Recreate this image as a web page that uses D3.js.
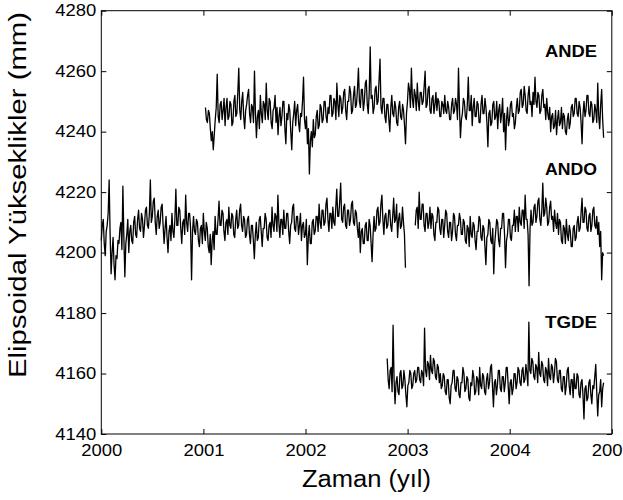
<!DOCTYPE html>
<html>
<head>
<meta charset="utf-8">
<script src="https://cdn.jsdelivr.net/npm/d3@7"></script>
<style>
  html, body { margin: 0; padding: 0; background: #fff; }
  svg { display: block; }
  text { font-family: "Liberation Sans", Arial, Helvetica, sans-serif; fill: #000; }
</style>
</head>
<body>
<svg id="chart" width="623" height="500"></svg>
<script>
// ---------- data ----------
const xTicks = [2000, 2001, 2002, 2003, 2004, 2005];
const yTicks = [4140, 4160, 4180, 4200, 4220, 4240, 4260, 4280];
const seriesNames = ["ANDE", "ANDO", "TGDE"];
const xTitle = "Zaman (yıl)";
const yTitle = "Elipsoidal Yükseklikler (mm)";

// twice-weekly samples, first and last epoch (decimal year)
const andeSpan = [2001.02, 2004.92];
const andoSpan = [2000.00, 2004.92];
const tgdeSpan = [2002.80, 2004.92];

const andeValues = [
  4248,4244, 4243,4247, 4246,4241,
  4237,4240, 4234,4239,
  4244,4248, 4259,4245, 4243,4249, 4250,4244,
  4247,4251, 4242,4248, 4251,4244, 4245,4250, 4249,4242, 4243,4250, 4252,4245, 4246,4253,
  4261,4247,
  4244,4250, 4253,4245, 4241,4247, 4249,4252, 4254,4246, 4243,4249, 4248,4243,
  4260,4246,
  4238,4245, 4247,4241, 4252,4246, 4243,4250, 4249,4244, 4256,4247, 4244,4251, 4250,4243, 4241,4247, 4248,4252,
  4243,4248, 4239,4245, 4248,4242, 4245,4250, 4250,4241, 4236,4246, 4244,4249, 4247,4240, 4234,4243, 4246,4250, 4242,4247, 4249,4243, 4240,4246, 4245,4250, 4258,4244,
  4241,4245, 4236,4241, 4226,4237, 4240,4235, 4244,4238,
  4239,4245, 4247,4241, 4242,4249, 4248,4243, 4244,4250, 4250,4245, 4243,4248, 4246,4252,
  4252,4245, 4246,4251, 4250,4244, 4256,4249, 4245,4252, 4251,4246, 4248,4253, 4254,4247, 4244,4250, 4250,4255, 4253,4246, 4247,4252, 4255,4248, 4249,4254,
  4261,4250, 4248,4254, 4254,4247, 4250,4256, 4257,4249, 4246,4253, 4268,4251, 4252,4246, 4248,4254, 4255,4249, 4250,4257, 4264,4248,
  4246,4251, 4251,4245, 4243,4249, 4249,4244, 4240,4248, 4252,4246, 4245,4250, 4248,4243, 4242,4248, 4250,4245, 4244,4249, 4247,4242,
  4236,4246,
  4250,4256, 4254,4248, 4261,4251, 4248,4254, 4252,4247, 4256,4250, 4247,4253, 4253,4249, 4250,4255, 4260,4248, 4249,4254, 4255,4247, 4246,4251, 4252,4246, 4249,4253,
  4247,4251, 4250,4245, 4245,4250, 4249,4246, 4252,4247, 4246,4250, 4248,4244, 4244,4249, 4251,4246, 4247,4251, 4249,4244, 4261,4248,
  4238,4244, 4246,4251, 4250,4245, 4244,4249, 4258,4247, 4247,4252, 4242,4248, 4251,4245, 4245,4250, 4249,4243, 4243,4249, 4252,4246, 4246,4251, 4248,4243,
  4235,4246,
  4247,4242, 4243,4249, 4250,4244, 4245,4250, 4241,4247, 4249,4243, 4246,4251, 4240,4246, 4234,4244, 4248,4242, 4244,4249, 4250,4245, 4246,4241, 4243,4248,
  4251,4246, 4247,4253, 4254,4248, 4249,4255, 4252,4247, 4246,4252, 4255,4249, 4250,4245, 4253,4249, 4258,4250, 4248,4253, 4252,4246, 4247,4252, 4254,4248, 4249,4244, 4251,4246,
  4244,4248, 4240,4245, 4246,4241, 4242,4247, 4239,4244, 4247,4242, 4243,4248, 4241,4246, 4245,4240, 4239,4244, 4246,4241, 4243,4248,
  4249,4245, 4246,4251, 4251,4246, 4245,4250, 4248,4243, 4236,4246, 4250,4245, 4247,4252, 4252,4246, 4245,4250, 4249,4243, 4244,4249,
  4247,4243, 4256,4245, 4241,4249, 4254,4244, 4238
];

const andoValues = [
  4204,4209, 4211,4203, 4199,4207, 4209,4213, 4224,4206,
  4193,4200, 4205,4196, 4191,4199, 4198,4204,
  4203,4208, 4210,4201, 4222,4205, 4192,4203, 4206,4211,
  4200,4207, 4209,4204, 4203,4210, 4212,4206, 4205,4211, 4214,4208, 4207,4213, 4211,4205,
  4209,4214, 4215,4209, 4208,4213, 4224,4210, 4212,4217, 4218,4210, 4206,4212, 4214,4208, 4210,4215, 4216,4209, 4203,4208, 4212,4205, 4200,4207, 4209,4204,
  4213,4207, 4205,4211, 4221,4209, 4209,4215, 4214,4208, 4203,4210, 4211,4206, 4219,4210, 4207,4213, 4213,4208,
  4191,4207,
  4212,4207, 4206,4211, 4210,4204, 4202,4208, 4209,4203, 4213,4207, 4204,4210, 4208,4202, 4200,4206, 4196,4204, 4207,4201,
  4212,4206, 4206,4211, 4217,4209, 4209,4214, 4213,4207, 4204,4210, 4211,4206, 4215,4209, 4208,4213, 4212,4206, 4205,4211, 4214,4208, 4209,4214, 4216,4209, 4207,4212, 4211,4205,
  4206,4211, 4212,4206, 4203,4209, 4209,4204, 4198,4206, 4210,4204, 4205,4211, 4212,4207, 4202,4208, 4208,4213, 4211,4205, 4204,4209,
  4210,4205, 4215,4209, 4207,4213, 4212,4207, 4219,4210, 4205,4211, 4211,4206, 4214,4208, 4208,4213, 4213,4207, 4203,4209, 4210,4215, 4216,4208, 4207,4212, 4212,4206, 4209,4213,
  4204,4209, 4210,4205, 4206,4211, 4196,4205, 4209,4203, 4203,4210, 4211,4206, 4207,4212,
  4212,4207, 4216,4210, 4208,4214, 4214,4209, 4210,4216, 4218,4211, 4207,4213, 4213,4208, 4215,4210, 4209,4215, 4221,4212, 4212,4217, 4223,4211, 4210,4215, 4216,4209, 4208,4214, 4214,4209, 4211,4216, 4217,4210, 4209,4214, 4213,4208,
  4205,4210, 4200,4207, 4208,4203, 4203,4209, 4210,4204, 4204,4211, 4209,4203, 4197,4206,
  4212,4207, 4208,4214, 4215,4209, 4210,4216, 4219,4211, 4206,4212, 4213,4208, 4209,4214, 4214,4209, 4207,4212, 4218,4210, 4211,4216, 4205,4211, 4213,4208, 4209,4215, 4210,4206,
  4195,null, null,null, null,null, null,null, null,null,
  4209,4214, 4215,4208, 4220,4211, 4211,4216, 4216,4209, 4207,4213, 4213,4208, 4210,4215,
  4208,4213, 4212,4206, 4204,4210, 4210,4215, 4214,4208, 4206,4211, 4211,4205, 4209,4214, 4213,4207, 4205,4210, 4210,4204, 4207,4213, 4212,4206, 4204,4209, 4209,4213, 4211,4206,
  4206,4211, 4210,4204, 4203,4209, 4208,4202, 4212,4206, 4205,4210, 4209,4204, 4201,4207, 4207,4212, 4211,4205, 4204,4209, 4208,4202, 4196,4205, 4206,4211, 4210,4204, 4203,4208, 4193,4203, 4207,4211,
  4210,4204, 4202,4208, 4208,4213, 4213,4206, 4195,4204, 4206,4211, 4211,4205, 4204,4209, 4209,4214, 4207,4212,
  4212,4207, 4215,4210, 4209,4214, 4214,4208, 4219,4211, 4211,4206,
  4189,4208,
  4214,4209, 4210,4215, 4216,4210, 4212,4217, 4218,4211, 4209,4214, 4223,4212, 4213,4218, 4215,4209, 4210,4215, 4217,4211, 4212,4207, 4214,4210, 4208,4213,
  4206,4211, 4210,4204, 4203,4209, 4208,4203, 4211,4206, 4204,4209, 4207,4202, 4202,4208, 4209,4204, 4205,4210,
  4212,4207, 4208,4213, 4218,4210, 4210,4215, 4214,4208, 4207,4212, 4213,4207, 4209,4214, 4215,4209, 4208,4212,
  4206,4210, 4202,4207, 4191,4200, 4199
];

const tgdeValues = [
  4165,4158, 4155,4161, 4162,4154, 4176,4158, 4150,4157, 4159,4154, 4153,4160, 4161,4155, 4156,4161, 4158,4153,
  4149,4156,
  4157,4161, 4160,4155, 4156,4160, 4161,4157, 4158,4162, 4162,4158, 4157,4161, 4160,4156,
  4175,4161,
  4159,4164, 4163,4158, 4166,4161, 4160,4165, 4164,4159, 4158,4163, 4162,4157, 4160,4155,
  4156,4160, 4159,4154, 4153,4158, 4158,4152, 4150,4156, 4157,4161, 4161,4155, 4154,4159, 4158,4153, 4152,4157, 4157,4162, 4160,4154, 4155,4159, 4158,4152, 4151,4157, 4156,4161, 4159,4153, 4154,4159,
  4158,4153, 4162,4156, 4155,4160, 4159,4154, 4153,4158, 4160,4155, 4157,4162, 4163,4156, 4149,4157, 4158,4153, 4156,4161, 4161,4155, 4154,4159, 4159,4154, 4157,4162, 4162,4156, 4150,4157, 4158,4153, 4155,4160, 4160,4155, 4157,4162,
  4161,4157, 4156,4161, 4162,4157, 4158,4163, 4160,4156,
  4177,4161,
  4160,4165, 4164,4159, 4158,4163, 4162,4157, 4167,4160, 4159,4164, 4163,4158, 4157,4162, 4161,4156, 4165,4159, 4158,4163, 4162,4157, 4160,4165, 4164,4158,
  4157,4161, 4161,4155, 4154,4159, 4159,4153, 4156,4161, 4162,4156, 4153,4158, 4158,4152, 4160,4155, 4155,4160, 4159,4153, 4152,4157, 4158,4153, 4145,4155,
  4156,4151, 4152,4157, 4158,4153, 4150,4156, 4155,4159, 4163,4154, 4146,4153, 4154,4158, 4149,4155, 4157
];

// ---------- layout ----------
const L = 101.3, R = 611.8, T = 10.7, B = 434;
const svg = d3.select("#chart");
svg.append("rect").attr("width", 623).attr("height", 500).attr("fill", "#fff");

const x = d3.scaleLinear().domain([2000, 2005]).range([L, R]);
const y = d3.scaleLinear().domain([4140, 4280]).range([B, T]);

function toPoints(values, span) {
  const n = values.length;
  const dt = (span[1] - span[0]) / (n - 1);
  return values.map((v, i) => ({ t: span[0] + i * dt, v }));
}

const series = [
  { name: seriesNames[0], pts: toPoints(andeValues, andeSpan), label: [597, 57.3] },
  { name: seriesNames[1], pts: toPoints(andoValues, andoSpan), label: [597, 175] },
  { name: seriesNames[2], pts: toPoints(tgdeValues, tgdeSpan), label: [597, 328.3] }
];

const line = d3.line()
  .defined(d => d.v !== null)
  .x(d => x(d.t))
  .y(d => y(d.v));

const plot = svg.append("g");
series.forEach(s => {
  plot.append("path")
    .datum(s.pts)
    .attr("fill", "none")
    .attr("stroke", "#000")
    .attr("stroke-width", 1.3)
    .attr("stroke-linejoin", "round")
    .attr("d", line);
});

// ---------- axes ----------
const fontTick = 16;
const gLeft = svg.append("g").attr("transform", `translate(${L},0)`)
  .call(d3.axisLeft(y).tickValues(yTicks).tickFormat(d3.format("d")).tickSize(-5).tickPadding(5));
const gBottom = svg.append("g").attr("transform", `translate(0,${B})`)
  .call(d3.axisBottom(x).tickValues(xTicks).tickFormat(d3.format("d")).tickSize(-5).tickPadding(11));
const gRight = svg.append("g").attr("transform", `translate(${R},0)`)
  .call(d3.axisRight(y).tickValues(yTicks).tickFormat("").tickSize(-5));
const gTop = svg.append("g").attr("transform", `translate(0,${T})`)
  .call(d3.axisTop(x).tickValues(xTicks).tickFormat("").tickSize(-5));

[gLeft, gBottom, gRight, gTop].forEach(g => {
  g.select(".domain").remove();
  g.selectAll(".tick line").attr("stroke", "#000").attr("stroke-width", 1);
  g.selectAll("text")
    .attr("font-size", fontTick)
    .attr("font-family", "Liberation Sans, Arial, Helvetica, sans-serif")
    .attr("fill", "#000")
    .attr("textLength", 41)
    .attr("lengthAdjust", "spacingAndGlyphs");
});

// frame
svg.append("rect")
  .attr("x", L).attr("y", T)
  .attr("width", R - L).attr("height", B - T)
  .attr("fill", "none").attr("stroke", "#000").attr("stroke-width", 1);

// ---------- titles ----------
svg.append("text")
  .attr("x", 366.5).attr("y", 486.5)
  .attr("text-anchor", "middle")
  .attr("font-size", 23)
  .attr("textLength", 129)
  .attr("lengthAdjust", "spacingAndGlyphs")
  .text(xTitle);

svg.append("text")
  .attr("transform", "translate(26,195) rotate(-90)")
  .attr("text-anchor", "middle")
  .attr("font-size", 23)
  .attr("textLength", 366)
  .attr("lengthAdjust", "spacingAndGlyphs")
  .text(yTitle);

// series labels
series.forEach(s => {
  svg.append("text")
    .attr("x", s.label[0]).attr("y", s.label[1])
    .attr("text-anchor", "end")
    .attr("font-size", 16)
    .attr("font-weight", "bold")
    .attr("textLength", 52)
    .attr("lengthAdjust", "spacingAndGlyphs")
    .text(s.name);
});
</script>
</body>
</html>
